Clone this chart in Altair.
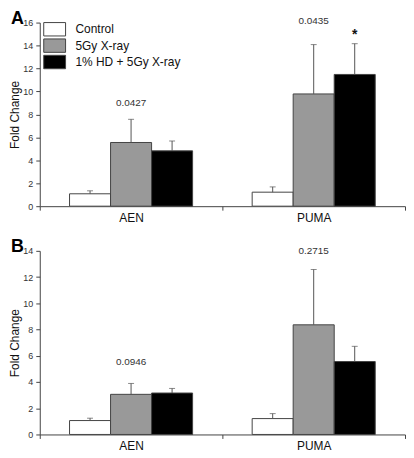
import altair as alt
import pandas as pd

FONT = "Liberation Sans"

genes = ["AEN", "PUMA"]
groups = ["Control", "5Gy X-ray", "1% HD + 5Gy X-ray"]
colors = ["#ffffff", "#999999", "#000000"]

# Panel A
a_control = [1.08, 1.22]
a_control_err = [0.26, 0.46]
a_xray = [5.55, 9.78]
a_xray_err = [2.02, 4.30]
a_hd = [4.82, 11.48]
a_hd_err = [0.86, 2.68]
a_pvals = ["0.0427", "0.0435"]
a_pval_y = [9.0, 16.1]
a_star_gene = ["PUMA"]
a_star_y = [14.9]

# Panel B
b_control = [1.06, 1.21]
b_control_err = [0.18, 0.38]
b_xray = [3.06, 8.36]
b_xray_err = [0.83, 4.22]
b_hd = [3.16, 5.56]
b_hd_err = [0.35, 1.16]
b_pvals = ["0.0946", "0.2715"]
b_pval_y = [5.5, 14.0]

PANEL_W = 368
PANEL_H = 185
LEGEND_ROW = 16.5
LEGEND_SW_W = 22
LEGEND_SW_H = 13.5


def bar_frame(ctrl, ctrl_e, xr, xr_e, hd, hd_e):
    rows = []
    for gi, g in enumerate(genes):
        for grp, m, e in zip(groups, [ctrl[gi], xr[gi], hd[gi]],
                             [ctrl_e[gi], xr_e[gi], hd_e[gi]]):
            rows.append({"gene": g, "group": grp, "mean": m, "upper": m + e})
    return pd.DataFrame(rows)


def legend_layers():
    out = []
    for i, (grp, col) in enumerate(zip(groups, colors)):
        d = pd.DataFrame({"group": [grp]})
        top = i * LEGEND_ROW
        sw = alt.Chart(d).mark_rect(fill=col, stroke="#444", strokeWidth=1).encode(
            x=alt.value(4), x2=alt.value(4 + LEGEND_SW_W),
            y=alt.value(top), y2=alt.value(top + LEGEND_SW_H))
        tx = alt.Chart(d).mark_text(font=FONT, fontSize=12, color="#111",
                                    align="left", baseline="middle").encode(
            x=alt.value(4 + LEGEND_SW_W + 10), y=alt.value(top + LEGEND_SW_H / 2),
            text="group:N")
        out += [sw, tx]
    return out


def panel(df, pvals, pval_y, ymax, letter, show_legend, star_gene=None, star_y=None):
    xaxis = alt.Axis(labelAngle=0, labelFontSize=12, labelColor="#111",
                     labelFont=FONT, tickBand="extent", tickSize=4,
                     labelPadding=2, domainColor="#444", tickColor="#444")
    xenc = alt.X("gene:N", sort=genes, title=None,
                 scale=alt.Scale(paddingInner=0, paddingOuter=0), axis=xaxis)
    xoff = alt.XOffset("group:N", sort=groups,
                       scale=alt.Scale(paddingInner=0, paddingOuter=0.726))
    yscale = alt.Scale(domain=[0, ymax], nice=False)
    yaxis = alt.Axis(values=list(range(0, ymax + 1, 2)), title="Fold Change",
                     titleFont=FONT, titleFontSize=12, titleFontWeight="normal",
                     titleColor="#111", titlePadding=1, labelOverlap=False,
                     labelFont=FONT, labelFontSize=9, labelColor="#333",
                     labelPadding=3, tickSize=4, grid=False,
                     domainColor="#444", tickColor="#444")

    def yenc(field):
        return alt.Y(field, scale=yscale, axis=yaxis, title="Fold Change")

    bars = alt.Chart(df).mark_bar(stroke="#444", strokeWidth=1).encode(
        x=xenc, xOffset=xoff,
        y=yenc("mean:Q"),
        fill=alt.Fill("group:N", sort=groups,
                      scale=alt.Scale(domain=groups, range=colors), legend=None),
    )
    err = alt.Chart(df).mark_rule(color="#555", strokeWidth=1).encode(
        x=xenc, xOffset=xoff,
        y=yenc("mean:Q"), y2="upper:Q",
    )
    caps = alt.Chart(df).mark_tick(color="#555", size=6, thickness=1).encode(
        x=xenc, xOffset=xoff, y=yenc("upper:Q"),
    )
    pdf = pd.DataFrame({"gene": genes, "label": pvals, "y": pval_y})
    ptext = alt.Chart(pdf).mark_text(font=FONT, fontSize=10, color="#333",
                                     baseline="middle").encode(
        x=xenc, y=yenc("y:Q"), text="label:N")
    ldf = pd.DataFrame({"letter": [letter]})
    ltext = alt.Chart(ldf).mark_text(font=FONT, fontSize=18, fontWeight="bold",
                                     align="left", baseline="alphabetic", color="#000").encode(
        x=alt.value(-29), y=alt.value(1), text="letter:N")
    layers = [bars, err, caps, ptext, ltext]
    if star_gene:
        sdf = pd.DataFrame({"gene": star_gene, "group": [groups[2]], "y": star_y,
                            "s": ["*"]})
        stext = alt.Chart(sdf).mark_text(font=FONT, fontSize=14, fontWeight="bold",
                                         color="#111", baseline="middle").encode(
            x=xenc, xOffset=xoff, y=yenc("y:Q"), text="s:N")
        layers.append(stext)
    if show_legend:
        layers += legend_layers()
    return alt.layer(*layers).properties(width=PANEL_W, height=PANEL_H)


dfa = bar_frame(a_control, a_control_err, a_xray, a_xray_err, a_hd, a_hd_err)
dfb = bar_frame(b_control, b_control_err, b_xray, b_xray_err, b_hd, b_hd_err)

pa = panel(dfa, a_pvals, a_pval_y, 16, "A", True, a_star_gene, a_star_y)
pb = panel(dfb, b_pvals, b_pval_y, 14, "B", False)

chart = alt.vconcat(pa, pb, spacing=45, bounds="flush").resolve_scale(
    y="independent", x="independent", xOffset="independent"
).properties(padding=0).configure_view(stroke=None)

chart.save("out.html", embed_options={"renderer": "svg", "actions": False})
